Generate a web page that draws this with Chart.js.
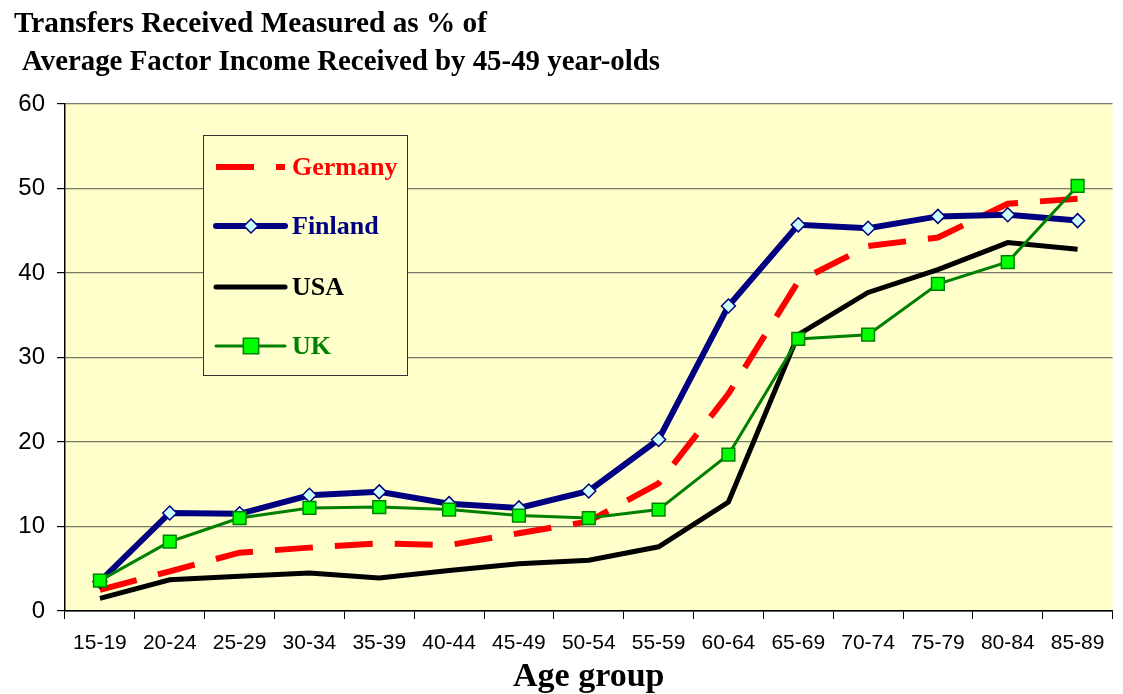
<!DOCTYPE html>
<html>
<head>
<meta charset="utf-8">
<script src="https://cdn.jsdelivr.net/npm/chart.js@4.4.1/dist/chart.umd.min.js"></script>
<style>
  html, body { margin: 0; padding: 0; background: #ffffff; }
  #wrap { width: 1123px; height: 694px; position: relative; }
</style>
</head>
<body>
<div id="wrap"><canvas id="c" width="1123" height="694"></canvas></div>
<script>
// ---- data ----
const ageGroups = ['15-19','20-24','25-29','30-34','35-39','40-44','45-49','50-54','55-59','60-64','65-69','70-74','75-79','80-84','85-89'];
const germany = [2.5, 4.7, 6.9, 7.5, 8.0, 7.8, 9.2, 10.6, 15.1, 25.7, 39.0, 43.2, 44.2, 48.2, 48.8];
const finland = [3.5, 11.6, 11.5, 13.7, 14.1, 12.7, 12.2, 14.2, 20.3, 36.1, 45.7, 45.3, 46.7, 46.9, 46.2];
const usa     = [1.5, 3.7, 4.1, 4.5, 3.9, 4.8, 5.6, 6.0, 7.6, 12.9, 32.7, 37.7, 40.4, 43.6, 42.8];
const uk      = [3.6, 8.2, 11.0, 12.2, 12.3, 12.0, 11.3, 11.0, 12.0, 18.5, 32.2, 32.7, 38.7, 41.3, 50.3];
const yTicks  = [0, 10, 20, 30, 40, 50, 60];
const titleLines = ['Transfers Received Measured as % of', 'Average Factor Income Received by 45-49 year-olds'];
const xTitle = 'Age group';
const seriesNames = ['Germany', 'Finland', 'USA', 'UK'];

const SERIF = '"Liberation Serif", "Times New Roman", serif';
const SANS = '"Liberation Sans", Arial, sans-serif';

const bgPlugin = {
  id: 'bgPlugin',
  beforeDraw(chart) {
    const {ctx, chartArea: a} = chart;
    ctx.save();
    ctx.fillStyle = '#FFFFCC';
    ctx.fillRect(a.left, a.top, a.right - a.left, a.bottom - a.top);
    ctx.restore();
  }
};

const titlePlugin = {
  id: 'titlePlugin',
  afterDraw(chart) {
    const ctx = chart.ctx;
    ctx.save();
    ctx.fillStyle = '#000';
    ctx.font = 'bold 29px ' + SERIF;
    ctx.textBaseline = 'alphabetic';
    const targets = [[14, 32, 473], [22, 70, 638]];
    titleLines.forEach((t, i) => {
      const [x, y, w] = targets[i];
      const m = ctx.measureText(t).width;
      ctx.save();
      ctx.translate(x, y);
      ctx.scale(w / m, 1);
      ctx.fillText(t, 0, 0);
      ctx.restore();
    });
    ctx.restore();
  }
};

const legendPlugin = {
  id: 'legendPlugin',
  afterDatasetsDraw(chart) {
    const ctx = chart.ctx;
    ctx.save();
    const bx = 203, by = 135, bw = 204, bh = 240;
    ctx.fillStyle = '#FFFFCC';
    ctx.fillRect(bx, by, bw, bh);
    ctx.strokeStyle = '#333';
    ctx.lineWidth = 1;
    ctx.strokeRect(bx + 0.5, by + 0.5, bw, bh);
    const rows = [167, 226, 287, 346];
    chart.data.datasets.forEach((ds, i) => {
      const y = rows[i];
      ctx.save();
      ctx.strokeStyle = ds.borderColor;
      ctx.lineWidth = ds.borderWidth;
      ctx.lineCap = i === 0 ? 'butt' : 'round';
      if (ds.borderDash) ctx.setLineDash(ds.borderDash);
      ctx.beginPath();
      ctx.moveTo(216, y);
      ctx.lineTo(285, y);
      ctx.stroke();
      ctx.setLineDash([]);
      if (ds.pointRadius > 0) {
        ctx.fillStyle = ds.pointBackgroundColor;
        ctx.strokeStyle = ds.pointBorderColor;
        ctx.lineWidth = ds.pointBorderWidth;
        const r = ds.pointRadius;
        ctx.beginPath();
        if (ds.pointStyle === 'rectRot') {
          ctx.moveTo(251, y - r); ctx.lineTo(251 + r, y); ctx.lineTo(251, y + r); ctx.lineTo(251 - r, y); ctx.closePath();
        } else {
          const s = r * 0.85;
          ctx.rect(251 - s, y - s, 2 * s, 2 * s);
        }
        ctx.fill(); ctx.stroke();
      }
      ctx.restore();
      ctx.fillStyle = ds.legendTextColor;
      ctx.font = 'bold 26px ' + SERIF;
      ctx.textBaseline = 'middle';
      ctx.fillText(ds.label, 292, y + 1);
    });
    ctx.restore();
  }
};

new Chart(document.getElementById('c'), {
  type: 'line',
  data: {
    labels: ageGroups,
    datasets: [
      { label: seriesNames[0], data: germany, borderColor: '#FF0000', borderWidth: 6, borderDash: [38, 22],
        pointRadius: 0, pointHoverRadius: 0, tension: 0, legendTextColor: '#FF0000', order: 3 },
      { label: seriesNames[1], data: finland, borderColor: '#000080', borderWidth: 6,
        pointStyle: 'rectRot', pointRadius: 7, pointBackgroundColor: '#CCFFFF', pointBorderColor: '#000080',
        pointBorderWidth: 1.5, tension: 0, legendTextColor: '#000080', order: 2 },
      { label: seriesNames[2], data: usa, borderColor: '#000000', borderWidth: 5,
        pointRadius: 0, pointHoverRadius: 0, tension: 0, legendTextColor: '#000000', order: 4 },
      { label: seriesNames[3], data: uk, borderColor: '#008000', borderWidth: 3,
        pointStyle: 'rect', pointRadius: 9, pointBackgroundColor: '#00FF00', pointBorderColor: '#008000',
        pointBorderWidth: 1.5, tension: 0, legendTextColor: '#008000', order: 1 }
    ]
  },
  options: {
    responsive: false,
    animation: false,
    layout: { padding: { top: 104, right: 0, left: 0, bottom: 0 } },
    plugins: { legend: { display: false }, title: { display: false }, tooltip: { enabled: false } },
    scales: {
      x: {
        offset: true,
        grid: { display: true, drawOnChartArea: false, offset: true, tickLength: 8, color: '#000', tickColor: '#000' },
        border: { display: true, color: '#000', width: 1.5 },
        ticks: { font: { family: SANS, size: 21 }, color: '#000', padding: 12, maxRotation: 0, autoSkip: false },
        title: { display: true, text: xTitle, font: { family: SERIF, size: 34, weight: 'bold' }, color: '#000', padding: { top: 0, bottom: -4 } },
        afterFit(s) { s.height = 83; }
      },
      y: {
        min: 0, max: 60,
        afterBuildTicks(s) { s.ticks = yTicks.map(v => ({ value: v })); },
        grid: { color: (c) => c.tick && c.tick.value === 0 ? '#000' : '#7a7a6a', lineWidth: 1.2, tickLength: 8, tickColor: '#000' },
        border: { display: true, color: '#000', width: 1.5 },
        ticks: { font: { family: SANS, size: 24 }, color: '#000', padding: 12 },
        afterFit(s) { s.width = 65; }
      }
    }
  },
  plugins: [bgPlugin, titlePlugin, legendPlugin]
});
</script>
</body>
</html>
